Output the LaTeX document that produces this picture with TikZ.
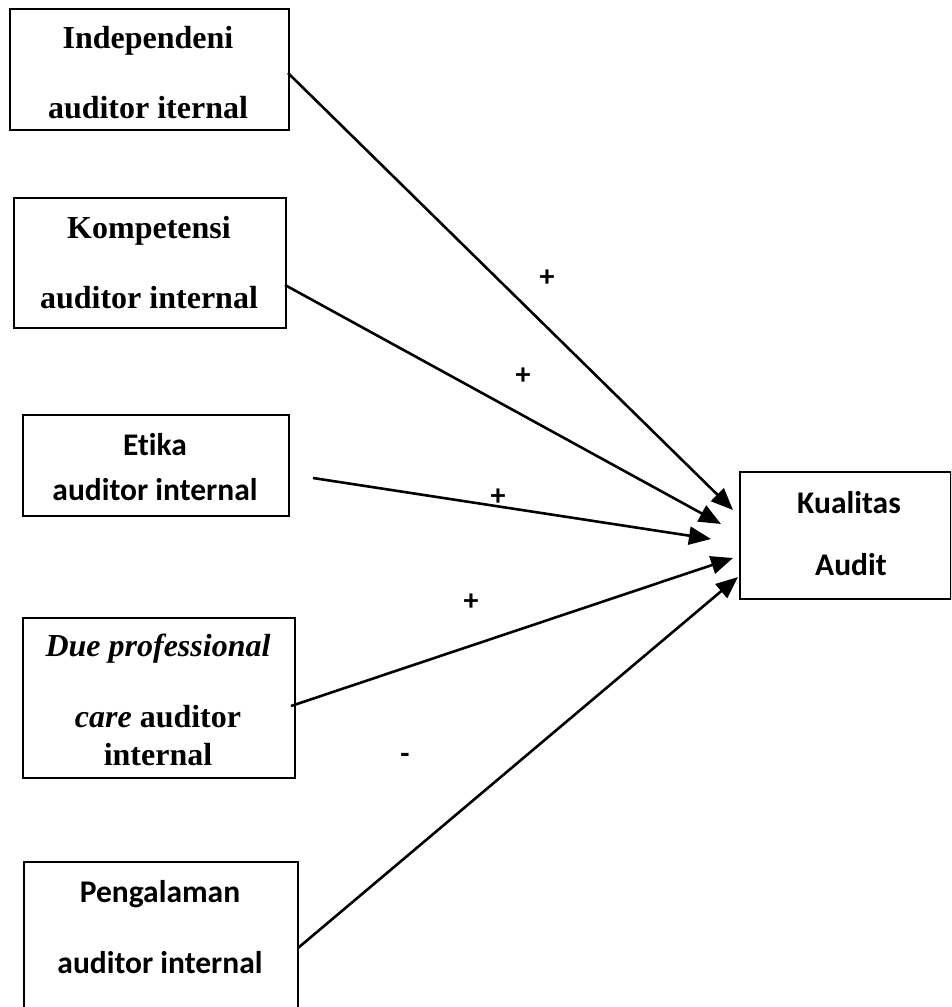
\documentclass[tikz,border=0pt]{standalone}
\usepackage{fontspec}
\setmainfont{Liberation Serif}
\newfontfamily\carl[Ligatures={NoCommon}]{Carlito}
\usetikzlibrary{arrows.meta}
\tikzset{
  box/.style={draw, line width=2pt, anchor=north west, inner sep=0pt, minimum width=#1},
  serifbf/.style={anchor=base, inner sep=0pt, font=\fontsize{32}{38}\selectfont\bfseries},
  sansbf/.style={anchor=base, inner sep=0pt, font=\fontsize{31.5}{38}\selectfont\carl\bfseries},
  sign/.style={inner sep=0pt, font=\fontsize{30}{36}\selectfont\carl\bfseries},
  link/.style={line width=2.6pt, -{Triangle[length=22pt,width=18pt]}}
}
\begin{document}
\begin{tikzpicture}[x=1pt,y=-1pt]
\clip (0,0) rectangle (951,1007);
\fill[white] (0,0) rectangle (951,1007);
% boxes
\node[box=279pt, minimum height=121pt] (b1) at (9,8) {};
\node[box=272pt, minimum height=130pt] (b2) at (13,197) {};
\node[box=266pt, minimum height=101pt] (b3) at (22,414) {};
\node[box=272pt, minimum height=160pt] (b4) at (22,617) {};
\node[box=274pt, minimum height=170pt] (b5) at (23,861) {};
\node[box=211pt, minimum height=127pt] (k) at (739,471) {};
% texts
\node[serifbf] (t1a) at (148,48) {Independeni};
\node[serifbf] (t1b) at (148,118) {auditor iternal};
\node[serifbf] (t2a) at (149,238) {Kompetensi};
\node[serifbf] (t2b) at (149,308) {auditor internal};
\node[sansbf] (t3a) at (155,455) {Etika};
\node[sansbf] (t3b) at (155,500) {auditor internal};
\node[serifbf] (t4a) at (158,656) {\itshape Due professional};
\node[serifbf] (t4b) at (158,727) {\itshape care\/\upshape\ auditor};
\node[serifbf] (t4c) at (158,765) {internal};
\node[sansbf] (t5a) at (160,902) {Pengalaman};
\node[sansbf] (t5b) at (160,973) {auditor internal};
\node[sansbf] (tka) at (849,513) {Kualitas};
\node[sansbf] (tkb) at (851,575) {Audit};
% connector ends
\coordinate (s1) at (288,73);
\coordinate (s2) at (285,285);
\coordinate (s3) at (313,478);
\coordinate (s4) at (291,706);
\coordinate (s5) at (298,948);
\coordinate (e1) at (733,510);
\coordinate (e2) at (721,524);
\coordinate (e3) at (711,539);
\coordinate (e4) at (733,558);
\coordinate (e5) at (738,577);
\draw[link] (s1) -- (e1);
\draw[link] (s2) -- (e2);
\draw[link] (s3) -- (e3);
\draw[link] (s4) -- (e4);
\draw[link] (s5) -- (e5);
% signs
\node[sign] (p1) at (547,278) {+};
\node[sign] (p2) at (523,376) {+};
\node[sign] (p3) at (498,497) {+};
\node[sign] (p4) at (471,602) {+};
\node[sign] (m5) at (405,758) {-};
\end{tikzpicture}
\end{document}
